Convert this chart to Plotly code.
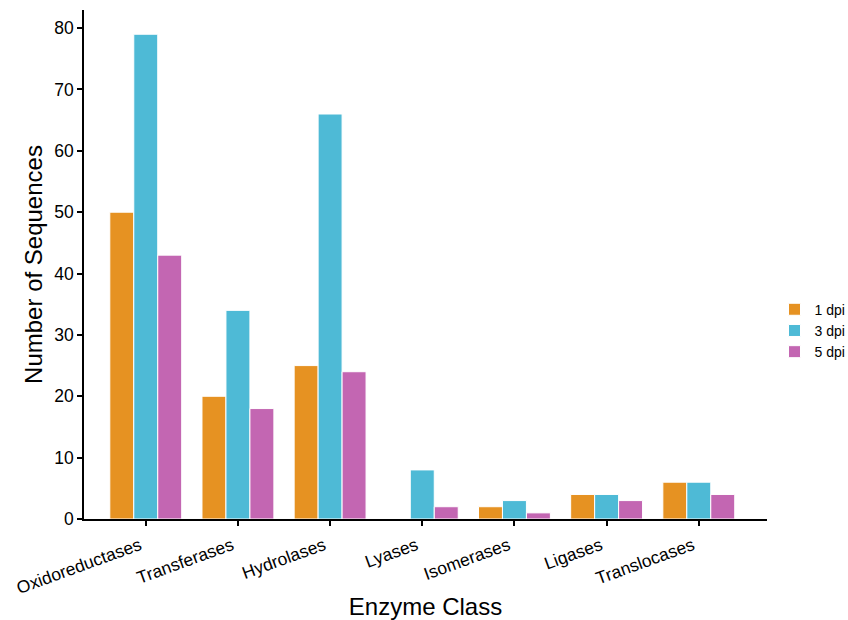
import plotly.graph_objects as go

categories = ["Oxidoreductases", "Transferases", "Hydrolases", "Lyases",
              "Isomerases", "Ligases", "Translocases"]
series_names = ["1 dpi", "3 dpi", "5 dpi"]
dpi1 = [50, 20, 25, 0, 2, 4, 6]
dpi3 = [79, 34, 66, 8, 3, 4, 6]
dpi5 = [43, 18, 24, 2, 1, 3, 4]
colors = ["#E69222", "#4EBAD6", "#C366B2"]
y_ticks = [0, 10, 20, 30, 40, 50, 60, 70, 80]

FONT = "Liberation Sans, Arial, sans-serif"

fig = go.Figure()
for name, vals, col in zip(series_names, [dpi1, dpi3, dpi5], colors):
    fig.add_trace(go.Bar(
        x=categories, y=vals, name=name,
        marker=dict(color=col, line=dict(color="white", width=1)),
    ))

fig.update_layout(
    width=848, height=620,
    margin=dict(l=84, r=81, t=10, b=101, autoexpand=False),
    paper_bgcolor="white", plot_bgcolor="white",
    barmode="group", bargap=0.22, bargroupgap=0.0,
    font=dict(family=FONT, color="black"),
    legend=dict(x=1.011, y=0.37, xanchor="left", yanchor="middle",
                font=dict(size=14, family=FONT), itemwidth=30,
                tracegroupgap=0, bgcolor="rgba(0,0,0,0)"),
    xaxis=dict(
        title=dict(text="Enzyme Class", font=dict(size=24), standoff=8),
        range=[-0.67, 6.74], automargin=False,
        showline=True, linecolor="black", linewidth=1.5,
        ticks="outside", ticklen=5, tickwidth=1.5, tickcolor="black",
        tickangle=-20, tickfont=dict(size=17.5),
        ticklabelshift=-6, ticklabelstandoff=3,
        showgrid=False, zeroline=False,
    ),
    yaxis=dict(
        title=dict(text="Number of Sequences", font=dict(size=24), standoff=5),
        range=[0, 82.95], tickvals=y_ticks, automargin=False,
        showline=True, linecolor="black", linewidth=1.5,
        ticks="outside", ticklen=5, tickwidth=1.5, tickcolor="black",
        tickfont=dict(size=17.5),
        showgrid=False, zeroline=False,
    ),
)

fig.write_html("out.html")
